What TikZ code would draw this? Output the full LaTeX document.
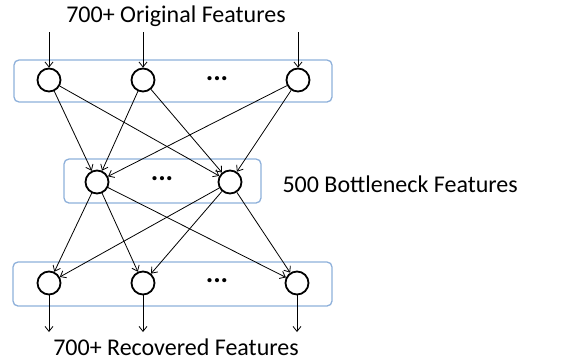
\documentclass[tikz,border=0pt]{standalone}
\usepackage{fontspec}
\setmainfont{Carlito}
\usepackage{tikz}
\usetikzlibrary{positioning,arrows.meta}
\definecolor{BoxBlue}{HTML}{8EB0DA}

\begin{document}
\begin{tikzpicture}[x=1pt,y=-1pt, font=\fontsize{24}{28}\selectfont,
  unit/.style={circle, draw, line width=1.8pt, minimum size=23pt, inner sep=0pt},
  layer/.style={draw=BoxBlue, line width=1.3pt, rounded corners=5pt, inner sep=0pt},
  link/.style={line width=0.8pt, -{Straight Barb[length=5pt,width=8pt]}},
  dots/.style={inner sep=0pt, font=\fontsize{28}{30}\selectfont\bfseries}]
\useasboundingbox (0,0) rectangle (565,362);
% layer boxes
\node[layer, minimum width=318pt, minimum height=42pt] (topbox) at (173,81) {};
\node[layer, minimum width=197pt, minimum height=44pt] (midbox) at (162.5,181) {};
\node[layer, minimum width=319pt, minimum height=44pt] (botbox) at (172.5,284) {};
% units
\node[unit] (t1) at (49,80) {};
\node[unit] (t2) at (143,80) {};
\node[unit] (t3) at (298,80) {};
\node[unit] (m1) at (97,182) {};
\node[unit] (m2) at (230,182) {};
\node[unit] (b1) at (49,283) {};
\node[unit] (b2) at (143,283) {};
\node[unit] (b3) at (297,283) {};
\node[dots] (tdots) at (217,79) {...};
\node[dots] (mdots) at (162,179) {...};
\node[dots] (bdots) at (217,281) {...};
% labels
\node (intext) at (176,16) {700+ Original Features};
\node[anchor=west] (midtext) at (279,184) {500 Bo\kern0pt ttleneck Features};
\node (outtext) at (176,347) {700+ Recovered Features};
% inputs and outputs
\foreach \i/\x in {1/49,2/143,3/298} {
  \coordinate (in\i) at (\x,32);
  \draw[link] (in\i) -- (t\i);
}
\foreach \i/\x in {1/49,2/143,3/297} {
  \coordinate (out\i) at (\x,332);
  \draw[link] (b\i) -- (out\i);
}
% connections
\foreach \s in {t1,t2,t3} {
  \foreach \d in {m1,m2} {\draw[link] (\s) -- (\d);}
}
\foreach \s in {m1,m2} {
  \foreach \d in {b1,b2,b3} {\draw[link] (\s) -- (\d);}
}
\end{tikzpicture}
\end{document}
